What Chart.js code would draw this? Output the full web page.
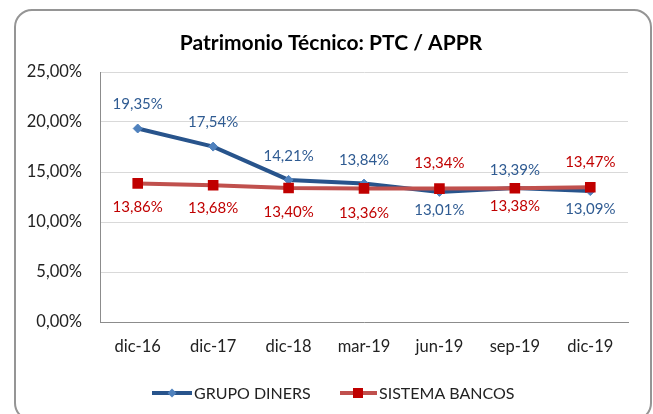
<!DOCTYPE html>
<html>
<head>
<meta charset="utf-8">
<script src="https://cdn.jsdelivr.net/npm/chart.js@4"></script>
<style>
  html, body { margin: 0; padding: 0; background: #fff; }
  #wrap { position: relative; width: 653px; height: 414px; overflow: hidden; }
  #frame {
    position: absolute; left: 14px; top: 9px; width: 638px; height: 412px;
    border: 2px solid #959595; border-radius: 18px; box-sizing: border-box;
  }
  canvas { position: absolute; left: 0; top: 0; }
</style>
</head>
<body>
<div id="wrap">
  <div id="frame"></div>
  <canvas id="chart" width="653" height="414"></canvas>
</div>
<script>
const periods = ["dic-16", "dic-17", "dic-18", "mar-19", "jun-19", "sep-19", "dic-19"];
const grupoDiners = [19.35, 17.54, 14.21, 13.84, 13.01, 13.39, 13.09];
const sistemaBancos = [13.86, 13.68, 13.40, 13.36, 13.34, 13.38, 13.47];
const yTicks = [0, 5, 10, 15, 20, 25];

// label placement (px from the point, negative = above)
const dinersLabelDy = [-24, -24, -24, -23, 18, -18, 18];
const bancosLabelDy = [24, 23, 24, 25, -25, 18, -25];

const FONT = "Lato, 'Open Sans', sans-serif";
const BLUE_LINE = "#28548c";
const BLUE_MARK = "#4f81bd";
const BLUE_TEXT = "#2f5b92";
const RED_LINE = "#c0504d";
const RED_MARK = "#c00000";

const pct = (v) => v.toFixed(2).replace(".", ",") + "%";

const labelsPlugin = {
  id: "pointLabels",
  afterDatasetsDraw(chart) {
    const ctx = chart.ctx;
    ctx.save();
    ctx.font = "15px " + FONT;
    ctx.textAlign = "center";
    ctx.textBaseline = "middle";
    chart.data.datasets.forEach((ds, di) => {
      const meta = chart.getDatasetMeta(di);
      meta.data.forEach((pt, i) => {
        ctx.fillStyle = ds.labelColor;
        ctx.fillText(pct(ds.data[i]), pt.x, pt.y + ds.labelDy[i]);
      });
    });
    ctx.restore();
  },
};

const decorPlugin = {
  id: "decor",
  afterDraw(chart) {
    const ctx = chart.ctx;
    ctx.save();
    // title
    ctx.fillStyle = "#000";
    ctx.font = "bold 21px " + FONT;
    ctx.textAlign = "center";
    ctx.textBaseline = "middle";
    ctx.fillText("Patrimonio Técnico: PTC / APPR", 331, 43);

    // legend
    const ly = 393;
    ctx.lineWidth = 4;
    ctx.strokeStyle = BLUE_LINE;
    ctx.beginPath(); ctx.moveTo(152, ly); ctx.lineTo(192, ly); ctx.stroke();
    ctx.fillStyle = BLUE_MARK;
    ctx.beginPath();
    ctx.moveTo(172, ly - 4.5); ctx.lineTo(176.5, ly); ctx.lineTo(172, ly + 4.5); ctx.lineTo(167.5, ly);
    ctx.closePath(); ctx.fill();

    ctx.strokeStyle = RED_LINE;
    ctx.beginPath(); ctx.moveTo(340, ly); ctx.lineTo(377, ly); ctx.stroke();
    ctx.fillStyle = RED_MARK;
    ctx.fillRect(353, ly - 5, 10, 10);

    ctx.fillStyle = "#222";
    ctx.font = "16px " + FONT;
    ctx.textAlign = "left";
    ctx.fillText("GRUPO DINERS", 194, ly + 1);
    ctx.fillText("SISTEMA BANCOS", 379, ly + 1);
    ctx.restore();
  },
};

new Chart(document.getElementById("chart").getContext("2d"), {
  type: "line",
  data: {
    labels: periods,
    datasets: [
      {
        label: "GRUPO DINERS",
        data: grupoDiners,
        borderColor: BLUE_LINE,
        borderWidth: 4,
        pointStyle: "rectRot",
        pointRadius: 4.5,
        pointBackgroundColor: BLUE_MARK,
        pointBorderColor: BLUE_MARK,
        pointBorderWidth: 1,
        tension: 0,
        order: 1,
        labelColor: BLUE_TEXT,
        labelDy: dinersLabelDy,
      },
      {
        label: "SISTEMA BANCOS",
        data: sistemaBancos,
        borderColor: RED_LINE,
        borderWidth: 4,
        pointStyle: "rect",
        pointRadius: 7.5,
        pointBackgroundColor: RED_MARK,
        pointBorderColor: RED_MARK,
        pointBorderWidth: 0,
        tension: 0,
        order: 0,
        labelColor: RED_MARK,
        labelDy: bancosLabelDy,
      },
    ],
  },
  options: {
    responsive: false,
    animation: false,
    layout: { padding: { left: 0, right: 25, top: 72, bottom: 42 } },
    plugins: {
      legend: { display: false },
      title: { display: false },
      tooltip: { enabled: false },
    },
    scales: {
      x: {
        offset: true,
        grid: { display: false, drawTicks: false },
        border: { display: true, color: "#8c8c8c", width: 1 },
        ticks: { color: "#222", font: { family: FONT, size: 16.5 }, padding: 15, maxRotation: 0 },
        afterFit: (scale) => { scale.height = 50; },
      },
      y: {
        min: 0,
        max: 25,
        afterBuildTicks: (scale) => { scale.ticks = yTicks.map((v) => ({ value: v })); },
        grid: { color: "#d9d9d9", drawTicks: false },
        border: { display: true, color: "#8c8c8c", width: 1 },
        ticks: { color: "#222", font: { family: FONT, size: 16.5 }, padding: 18, callback: (v) => pct(v) },
        afterFit: (scale) => { scale.width = 100; },
      },
    },
  },
  plugins: [labelsPlugin, decorPlugin],
});
</script>
</body>
</html>
